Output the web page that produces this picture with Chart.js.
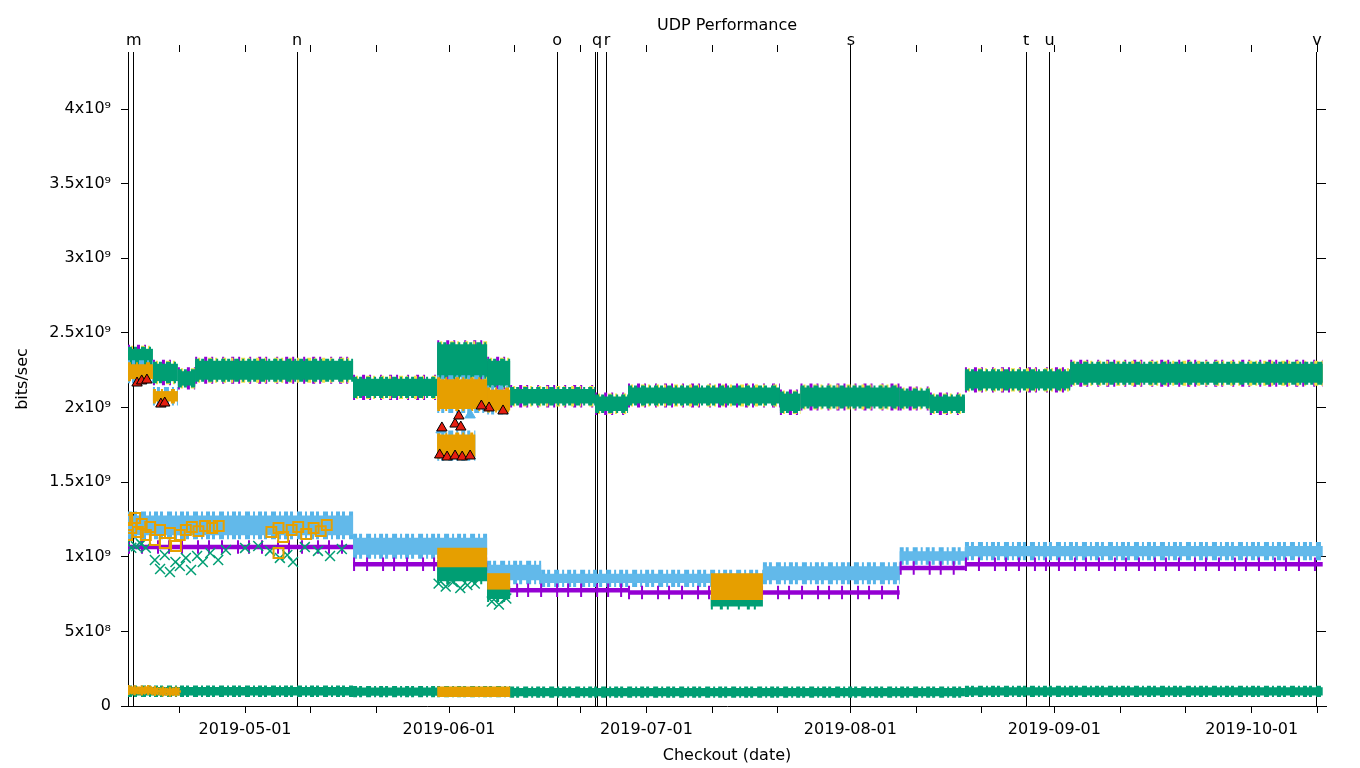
<!DOCTYPE html>
<html>
<head>
<meta charset="utf-8">
<script src="https://cdn.jsdelivr.net/npm/chart.js@4.4.0/dist/chart.umd.min.js"></script>
<style>
  html, body { margin: 0; padding: 0; background: #fff; }
</style>
</head>
<body>
<canvas id="myChart" width="1360" height="768"></canvas>
<script>
// dates are 'YYYY-MM-DD' or 'YYYY-MM-DDTHH' (UTC)
const T = s => Date.parse(s.length === 10 ? s + 'T00:00:00Z' : s + ':00:00Z')

const xMin = '2019-04-13T05'
const xMax = '2019-10-12T07'
const xTickDates = ['2019-04-21', '2019-05-01', '2019-05-11', '2019-05-21', '2019-06-01', '2019-06-11', '2019-06-21',
  '2019-07-01', '2019-07-11', '2019-07-21', '2019-08-01', '2019-08-11', '2019-08-21', '2019-09-01', '2019-09-11',
  '2019-09-21', '2019-10-01', '2019-10-11']
const xTickLabels = xTickDates.map(d => d.endsWith('-01') ? d : '')

const yMax = 4.382e9
const yTickValues = [0, 0.5e9, 1e9, 1.5e9, 2e9, 2.5e9, 3e9, 3.5e9, 4e9]
const yTickLabels = ['0', '5x10⁸', '1x10⁹', '1.5x10⁹', '2x10⁹', '2.5x10⁹', '3x10⁹', '3.5x10⁹', '4x10⁹']

// checkout events (top axis)
const eventDates = ['2019-04-14T02', '2019-05-08T22', '2019-06-17T10', '2019-06-23T05', '2019-06-23T12',
  '2019-06-25T00', '2019-08-01T02', '2019-08-27T17', '2019-08-31T07', '2019-10-10T22']
const eventLabels = ['m', 'n', 'o', '', 'q', 'r', 's', 't', 'u', 'v']

// upper band (many series on top of each other), low / high of the spread
const upStart = ['2019-04-13T05', '2019-04-17T00', '2019-04-20T19', '2019-04-23T10', '2019-05-17T10', '2019-05-30T05',
  '2019-06-06T19', '2019-06-10T07', '2019-06-23T05', '2019-06-28T05', '2019-07-21T07', '2019-07-24T10',
  '2019-08-08T12', '2019-08-13T02', '2019-08-18T10', '2019-09-03T10']
const upEnd = ['2019-04-17T00', '2019-04-20T19', '2019-04-23T10', '2019-05-17T10', '2019-05-30T05', '2019-06-06T19',
  '2019-06-10T07', '2019-06-23T05', '2019-06-28T05', '2019-07-21T07', '2019-07-24T10', '2019-08-08T12',
  '2019-08-13T02', '2019-08-18T10', '2019-09-03T10', '2019-10-11T19']
const upLo = [2.24e9, 2.17e9, 2.14e9, 2.18e9, 2.07e9, 2.20e9, 2.14e9, 2.02e9, 1.97e9, 2.02e9, 1.97e9, 2.00e9, 2.00e9, 1.97e9, 2.12e9, 2.16e9]
const upHi = [2.40e9, 2.30e9, 2.25e9, 2.32e9, 2.20e9, 2.43e9, 2.32e9, 2.13e9, 2.08e9, 2.14e9, 2.10e9, 2.14e9, 2.12e9, 2.08e9, 2.25e9, 2.30e9]

// orange blocks in the upper band
const uoStart = ['2019-04-13T05', '2019-04-17T00', '2019-05-30T05', '2019-06-06T19', '2019-05-30T05']
const uoEnd = ['2019-04-17T00', '2019-04-20T19', '2019-06-06T19', '2019-06-10T07', '2019-06-05T00']
const uoLo = [2.18e9, 2.03e9, 1.98e9, 1.97e9, 1.66e9]
const uoHi = [2.30e9, 2.12e9, 2.20e9, 2.13e9, 1.83e9]

// red triangles
const redDates = ['2019-04-14T14', '2019-04-15T07', '2019-04-16T02', '2019-04-18T05', '2019-04-18T19',
  '2019-05-30T22', '2019-06-01T22', '2019-06-02T12', '2019-06-02T19', '2019-05-30T14', '2019-05-31T17',
  '2019-06-01T22', '2019-06-03T00', '2019-06-04T05', '2019-06-09T05', '2019-06-07T02', '2019-06-05T22']
const redVals = [2.164e9, 2.178e9, 2.184e9, 2.023e9, 2.03e9,
  1.863e9, 1.889e9, 1.943e9, 1.869e9, 1.682e9, 1.668e9,
  1.675e9, 1.668e9, 1.675e9, 1.977e9, 1.997e9, 2.01e9]

// light blue triangles (down)
const triDates = ['2019-06-04T05', '2019-05-30T19']
const triVals = [1.95e9, 1.85e9]

// lower band: light blue
const lbStart = ['2019-04-13T05', '2019-05-17T10', '2019-06-06T19', '2019-06-15T00', '2019-07-18T17', '2019-08-08T12', '2019-08-18T10']
const lbEnd = ['2019-05-17T10', '2019-06-06T19', '2019-06-15T00', '2019-07-18T17', '2019-08-08T12', '2019-08-18T10', '2019-10-11T19']
const lbLo = [1.13e9, 1.00e9, 0.83e9, 0.81e9, 0.83e9, 0.96e9, 0.99e9]
const lbHi = [1.29e9, 1.14e9, 0.96e9, 0.90e9, 0.95e9, 1.05e9, 1.085e9]

// lower band: purple
const lpStart = ['2019-04-13T05', '2019-05-17T10', '2019-06-06T19', '2019-06-28T05', '2019-08-08T12', '2019-08-18T10']
const lpEnd = ['2019-05-17T10', '2019-06-06T19', '2019-06-28T05', '2019-08-08T12', '2019-08-18T10', '2019-10-11T19']
const lpLo = [1.05e9, 0.935e9, 0.76e9, 0.745e9, 0.91e9, 0.935e9]
const lpHi = [1.08e9, 0.965e9, 0.79e9, 0.775e9, 0.94e9, 0.965e9]

// lower band: green blocks and single green crosses
const lgStart = ['2019-05-30T05', '2019-06-06T19', '2019-07-10T19']
const lgEnd = ['2019-06-06T19', '2019-06-10T07', '2019-07-18T17']
const lgLo = [0.83e9, 0.71e9, 0.66e9]
const lgHi = [0.965e9, 0.81e9, 0.72e9]

const gxDates = ['2019-04-13T02', '2019-04-13T17', '2019-04-14T10', '2019-04-15T05', '2019-04-15T22',
  '2019-04-17T07', '2019-04-18T02', '2019-04-18T19', '2019-04-19T14', '2019-04-20T10', '2019-04-21T02',
  '2019-04-22T00', '2019-04-22T19', '2019-04-23T17', '2019-04-24T14', '2019-04-25T17', '2019-04-26T22', '2019-04-28T02',
  '2019-05-01T00', '2019-05-03T00', '2019-05-04T19', '2019-05-06T07', '2019-05-07T10', '2019-05-08T07',
  '2019-05-10T02', '2019-05-12T02', '2019-05-13T22', '2019-05-15T17',
  '2019-05-30T10', '2019-05-31T12', '2019-06-01T14', '2019-06-02T17', '2019-06-03T19', '2019-06-04T22',
  '2019-06-07T12', '2019-06-08T14', '2019-06-09T17']
const gxVals = [1.09e9, 1.06e9, 1.07e9, 1.085e9, 1.06e9,
  0.978e9, 0.918e9, 1.012e9, 0.898e9, 0.965e9, 0.938e9,
  0.992e9, 0.911e9, 1.005e9, 0.965e9, 1.025e9, 0.978e9, 1.045e9,
  1.059e9, 1.072e9, 1.039e9, 0.992e9, 1.012e9, 0.965e9,
  1.065e9, 1.039e9, 1.005e9, 1.052e9,
  0.82e9, 0.80e9, 0.83e9, 0.79e9, 0.81e9, 0.82e9,
  0.70e9, 0.68e9, 0.72e9]

// lower band: orange blocks and single open squares
const loStart = ['2019-05-30T05', '2019-06-06T19', '2019-07-10T19']
const loEnd = ['2019-06-06T19', '2019-06-10T07', '2019-07-18T17']
const loLo = [0.93e9, 0.78e9, 0.71e9]
const loHi = [1.06e9, 0.89e9, 0.89e9]

const osDates = ['2019-04-13T02', '2019-04-13T02', '2019-04-13T17', '2019-04-14T07', '2019-04-14T17', '2019-04-15T07',
  '2019-04-15T22', '2019-04-16T14', '2019-04-17T07', '2019-04-18T02', '2019-04-18T19', '2019-04-19T14',
  '2019-04-20T12', '2019-04-21T02', '2019-04-22T00', '2019-04-22T22', '2019-04-23T22', '2019-04-24T22',
  '2019-04-26T00', '2019-04-27T00', '2019-05-05T00', '2019-05-06T02', '2019-05-06T19', '2019-05-08T02',
  '2019-05-09T02', '2019-05-10T07', '2019-05-11T10', '2019-05-12T12', '2019-05-13T10', '2019-05-06T02']
const osVals = [1.246e9, 1.146e9, 1.193e9, 1.26e9, 1.166e9, 1.219e9,
  1.146e9, 1.199e9, 1.112e9, 1.179e9, 1.092e9, 1.159e9,
  1.072e9, 1.146e9, 1.179e9, 1.199e9, 1.172e9, 1.206e9,
  1.193e9, 1.206e9, 1.166e9, 1.193e9, 1.132e9, 1.179e9,
  1.199e9, 1.152e9, 1.193e9, 1.172e9, 1.213e9, 1.025e9]

// bottom band
const bgStart = ['2019-04-13T05', '2019-05-17T10', '2019-06-10T07', '2019-08-18T10']
const bgEnd = ['2019-05-17T10', '2019-06-10T07', '2019-08-18T10', '2019-10-11T19']
const bgLo = [0.07e9, 0.068e9, 0.066e9, 0.07e9]
const bgHi = [0.128e9, 0.124e9, 0.12e9, 0.126e9]

const boStart = ['2019-05-30T05']
const boEnd = ['2019-06-10T07']
const boLo = [0.06e9]
const boHi = [0.13e9]

const bsDates = ['2019-04-13T07', '2019-04-14T05', '2019-04-15T07', '2019-04-16T07', '2019-04-17T07',
  '2019-04-18T12', '2019-04-19T14', '2019-04-20T12']
const bsVals = [0.107e9, 0.105e9, 0.104e9, 0.107e9, 0.1e9, 0.097e9, 0.095e9, 0.097e9]

const PURPLE = '#9400d3', GREEN = '#009e73', LBLUE = '#56b4e9', ORANGE = '#e69f00',
  YELLOW = '#f0e442', RED = '#e51e10'

// uneven dash patterns, so band edges look like overlapping point marks
const RAG_A = [3, 5, 2, 8, 4, 3, 2, 6]
const RAG_B = [2, 7, 3, 4, 2, 9]
const RAG_C = [4, 2, 3, 4, 5, 3, 2, 3]

const datasets = []

// a band of points drawn as thick line segments, thickness = spread lo..hi on the y scale
// grow/dash only change the look of the stroke (ragged marker edges)
function band(label, starts, ends, lo, hi, color, grow, dash, dashOffset) {
  const data = []
  starts.forEach((s, i) => {
    const mid = (lo[i] + hi[i]) / 2
    data.push({x: T(s), y: mid}, {x: T(ends[i]), y: mid}, {x: T(ends[i]), y: null})
  })
  datasets.push({
    type: 'line', label, data,
    borderColor: color, borderCapStyle: 'butt',
    borderDash: dash || [], borderDashOffset: dashOffset || 0,
    pointRadius: 0, spanGaps: false,
    segment: {
      borderWidth: ctx => {
        const i = Math.floor(ctx.p0DataIndex / 3)
        const y = ctx.chart.scales.y
        return Math.max(1, y.getPixelForValue(lo[i]) - y.getPixelForValue(hi[i]) + (grow || 0))
      }
    }
  })
}

function marks(label, dates, vals, style, color, radius, fill, edge, width) {
  datasets.push({
    type: 'line', label, showLine: false,
    data: dates.map((d, i) => ({x: T(d), y: vals[i]})),
    pointStyle: style, pointRadius: radius,
    pointBorderColor: edge || color, pointBackgroundColor: fill || 'rgba(0,0,0,0)',
    pointBorderWidth: width || 1.5
  })
}

// back to front
band('upper purple', upStart, upEnd, upLo, upHi, PURPLE, 6, RAG_B)
band('upper yellow', upStart, upEnd, upLo, upHi, YELLOW, 4, RAG_A, 5)
band('upper green edge', upStart, upEnd, upLo, upHi, GREEN, 2, RAG_C)
band('upper green', upStart, upEnd, upLo, upHi, GREEN, -2)
band('upper blue edge', uoStart, uoEnd, uoLo, uoHi, LBLUE, 5, RAG_C, 2)
band('upper orange edge', uoStart, uoEnd, uoLo, uoHi, ORANGE, 1, RAG_A)
band('upper orange', uoStart, uoEnd, uoLo, uoHi, ORANGE, -3)
marks('blue triangles', triDates, triVals, 'triangle', LBLUE, 6, LBLUE, LBLUE, 1)
marks('red triangles', redDates, redVals, 'triangle', RED, 6, RED, '#000', 1)
band('lower blue edge', lbStart, lbEnd, lbLo, lbHi, LBLUE, 4, RAG_C)
band('lower blue', lbStart, lbEnd, lbLo, lbHi, '#62b9ea', -4)
band('lower purple ticks', lpStart, lpEnd, lpLo, lpHi, PURPLE, 9, [2, 11, 2, 14, 2, 9])
band('lower purple', lpStart, lpEnd, lpLo, lpHi, PURPLE)
marks('green crosses', gxDates, gxVals, 'crossRot', GREEN, 7)
band('lower green edge', lgStart, lgEnd, lgLo, lgHi, GREEN, 4, RAG_B)
band('lower green', lgStart, lgEnd, lgLo, lgHi, GREEN, -2)
band('lower orange', loStart, loEnd, loLo, loHi, ORANGE)
marks('orange squares', osDates, osVals, 'rect', ORANGE, 7, null, ORANGE, 2)
band('bottom green edge', bgStart, bgEnd, bgLo, bgHi, GREEN, 3, RAG_C)
band('bottom green', bgStart, bgEnd, bgLo, bgHi, GREEN)
band('bottom orange', boStart, boEnd, boLo, boHi, ORANGE)
marks('bottom stars', bsDates, bsVals, 'star', ORANGE, 5, ORANGE, ORANGE, 2.5)
datasets.forEach((d, i) => { d.order = -i })

Chart.defaults.font.family = 'DejaVu Sans'
Chart.defaults.font.size = 16
Chart.defaults.color = '#000'

const ctx = document.getElementById('myChart').getContext('2d')
const myChart = new Chart(ctx, {
  type: 'line',
  data: { datasets },
  options: {
    responsive: false,
    animation: false,
    events: [],
    layout: { padding: 0 },
    plugins: {
      legend: { display: false },
      tooltip: { enabled: false },
      title: {
        display: true,
        fullSize: false,
        text: 'UDP Performance',
        font: { size: 16, weight: 'normal' },
        color: '#000',
        padding: { top: 16, bottom: 0 }
      }
    },
    scales: {
      x: {
        type: 'linear', position: 'bottom',
        min: T(xMin), max: T(xMax),
        afterBuildTicks: s => { s.ticks = xTickDates.map(d => ({value: T(d)})) },
        afterFit: s => { s.height = 62 },
        ticks: { autoSkip: false, maxRotation: 0, padding: 7, callback: (v, i) => xTickLabels[i] },
        grid: { drawOnChartArea: false, tickLength: 7, color: '#000' },
        border: { display: true, color: '#000' },
        title: { display: true, text: 'Checkout (date)', padding: { top: 0, bottom: 3 } }
      },
      x2: {
        type: 'linear', position: 'top',
        min: T(xMin), max: T(xMax),
        afterBuildTicks: s => {
          s.ticks = eventDates.map(d => ({value: T(d)})).concat(xTickDates.map(d => ({value: T(d)})))
        },
        afterFit: s => { s.height = 16.8 },
        ticks: {
          autoSkip: false, maxRotation: 0, padding: -4,
          font: { size: 16, lineHeight: 1 },
          callback: (v, i) => i < eventLabels.length ? eventLabels[i] : ''
        },
        grid: {
          drawOnChartArea: true, tickLength: 7,
          color: c => c.index < eventDates.length ? '#000' : 'rgba(0,0,0,0)',
          tickColor: c => c.index < eventDates.length ? 'rgba(0,0,0,0)' : '#000'
        },
        border: { display: false }
      },
      y: {
        type: 'linear', position: 'left',
        min: 0, max: yMax,
        afterBuildTicks: s => { s.ticks = yTickValues.map(v => ({value: v})) },
        afterFit: s => { s.width = 128 },
        ticks: { padding: 10, callback: (v, i) => yTickLabels[i] },
        grid: { drawOnChartArea: false, tickLength: 7, color: '#000' },
        border: { display: true, color: '#000' },
        title: { display: true, text: 'bits/sec', padding: { top: 13, bottom: 0 } }
      },
      y2: {
        type: 'linear', position: 'right',
        min: 0, max: yMax,
        afterBuildTicks: s => { s.ticks = yTickValues.map(v => ({value: v})) },
        afterFit: s => { s.width = 34 },
        ticks: { display: false },
        grid: { drawOnChartArea: false, tickLength: -9, color: '#000' },
        border: { display: false }
      }
    }
  }
})
</script>
</body>
</html>
